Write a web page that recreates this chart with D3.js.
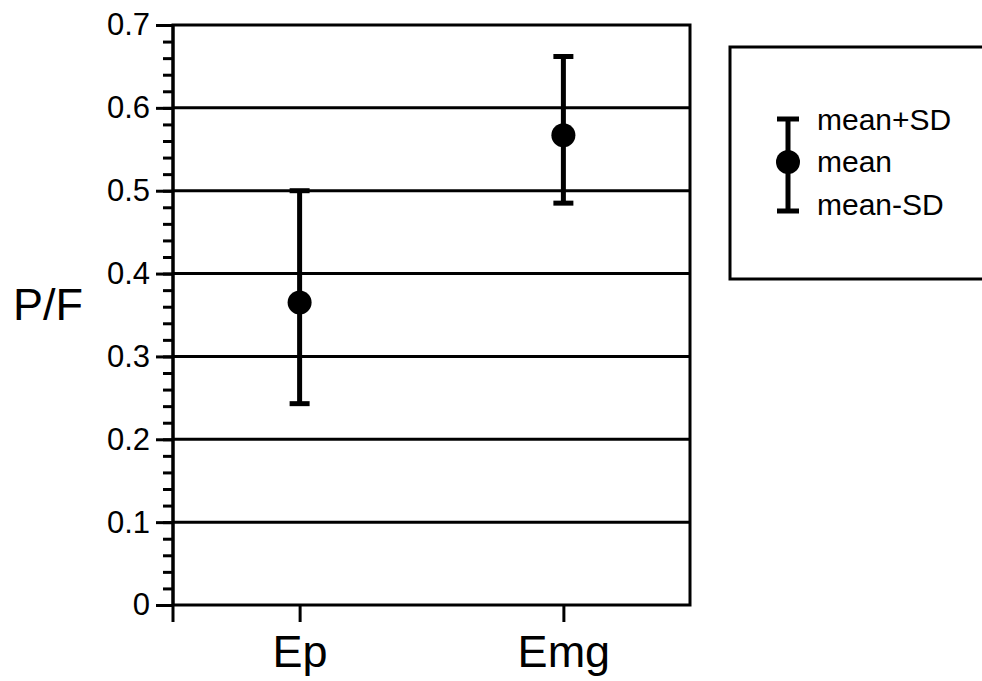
<!DOCTYPE html>
<html>
<head>
  <meta charset="utf-8">
  <title>P/F</title>
  <script src="https://d3js.org/d3.v7.min.js"></script>
  <style>
    body { margin: 0; background: #fff; }
    text { font-family: "Liberation Sans", Arial, Helvetica, sans-serif; fill: #000; }
  </style>
</head>
<body>
<script>
  // data
  var grupos = ["Ep", "Emg"];
  var medias = [0.365, 0.567];
  var sdArriba = [0.500, 0.662];
  var sdAbajo = [0.243, 0.485];
  var ticksY = [0, 0.1, 0.2, 0.3, 0.4, 0.5, 0.6, 0.7];
  var etiquetasLeyenda = ["mean+SD", "mean", "mean-SD"];

  var w = 982, h = 681;
  var izq = 173, der = 690, arriba = 25, abajo = 605;

  var svg = d3.select("body").append("svg").attr("width", w).attr("height", h);

  var y = d3.scaleLinear().domain([0, 0.7]).range([abajo, arriba]);
  var x = d3.scalePoint().domain(grupos).range([izq, der]).padding(0.48);

  // horizontal grid lines
  svg.selectAll("line.grid").data(ticksY.slice(1, -1)).enter().append("line")
    .attr("class", "grid")
    .attr("x1", izq).attr("x2", der)
    .attr("y1", function(d) { return y(d); })
    .attr("y2", function(d) { return y(d); })
    .attr("stroke", "#000").attr("stroke-width", 3);

  // box
  svg.append("rect")
    .attr("x", izq).attr("y", arriba)
    .attr("width", der - izq).attr("height", abajo - arriba)
    .attr("fill", "none").attr("stroke", "#000").attr("stroke-width", 3);

  // minor ticks
  var menores = d3.range(0, 0.7001, 0.02);
  var ejeMenor = svg.append("g").attr("transform", "translate(" + izq + ",0)")
    .call(d3.axisLeft(y).tickValues(menores).tickSize(10).tickFormat(""));
  ejeMenor.select(".domain").remove();
  ejeMenor.selectAll("line").attr("stroke-width", 3);

  // major ticks + labels
  var ejeY = svg.append("g").attr("transform", "translate(" + izq + ",0)")
    .call(d3.axisLeft(y).tickValues(ticksY).tickSize(17).tickPadding(6)
      .tickFormat(function(d) { return d === 0 ? "0" : d3.format(".1f")(d); }));
  ejeY.select(".domain").remove();
  ejeY.selectAll("line").attr("stroke-width", 3);
  ejeY.selectAll("text").attr("font-size", 31).attr("font-family", null);

  // left axis line, running below zero
  svg.append("line")
    .attr("x1", izq).attr("x2", izq)
    .attr("y1", arriba).attr("y2", abajo + 17)
    .attr("stroke", "#000").attr("stroke-width", 3);

  // x axis
  var ejeX = svg.append("g").attr("transform", "translate(0," + abajo + ")")
    .call(d3.axisBottom(x).tickSize(17).tickPadding(13));
  ejeX.select(".domain").remove();
  ejeX.selectAll("line").attr("stroke-width", 3);
  ejeX.selectAll("text").attr("font-size", 45).attr("font-family", null);

  // y title
  svg.append("text").attr("x", 13).attr("y", 320)
    .attr("font-size", 45).text("P/F");

  // error bars
  var barras = svg.selectAll("g.barra").data(grupos).enter().append("g").attr("class", "barra");
  barras.append("line")
    .attr("x1", function(d) { return x(d); }).attr("x2", function(d) { return x(d); })
    .attr("y1", function(d, i) { return y(sdArriba[i]); })
    .attr("y2", function(d, i) { return y(sdAbajo[i]); })
    .attr("stroke", "#000").attr("stroke-width", 5);
  barras.append("line")
    .attr("x1", function(d) { return x(d) - 10; }).attr("x2", function(d) { return x(d) + 10; })
    .attr("y1", function(d, i) { return y(sdArriba[i]); })
    .attr("y2", function(d, i) { return y(sdArriba[i]); })
    .attr("stroke", "#000").attr("stroke-width", 5);
  barras.append("line")
    .attr("x1", function(d) { return x(d) - 10; }).attr("x2", function(d) { return x(d) + 10; })
    .attr("y1", function(d, i) { return y(sdAbajo[i]); })
    .attr("y2", function(d, i) { return y(sdAbajo[i]); })
    .attr("stroke", "#000").attr("stroke-width", 5);
  barras.append("circle")
    .attr("cx", function(d) { return x(d); })
    .attr("cy", function(d, i) { return y(medias[i]); })
    .attr("r", 12).attr("fill", "#000");

  // legend
  var ley = svg.append("g");
  ley.append("rect").attr("x", 730).attr("y", 47).attr("width", 300).attr("height", 232)
    .attr("fill", "none").attr("stroke", "#000").attr("stroke-width", 3);
  var lx = 788, lArriba = 119, lAbajo = 211, lMedio = 162;
  ley.append("line").attr("x1", lx).attr("x2", lx).attr("y1", lArriba).attr("y2", lAbajo)
    .attr("stroke", "#000").attr("stroke-width", 5);
  [lArriba, lAbajo].forEach(function(cy) {
    ley.append("line").attr("x1", lx - 11).attr("x2", lx + 11).attr("y1", cy).attr("y2", cy)
      .attr("stroke", "#000").attr("stroke-width", 5);
  });
  ley.append("circle").attr("cx", lx).attr("cy", lMedio).attr("r", 12).attr("fill", "#000");
  var baseLey = [130, 172, 215];
  ley.selectAll("text").data(etiquetasLeyenda).enter().append("text")
    .attr("x", 817).attr("y", function(d, i) { return baseLey[i]; })
    .attr("font-size", 30).text(function(d) { return d; });
</script>
</body>
</html>
